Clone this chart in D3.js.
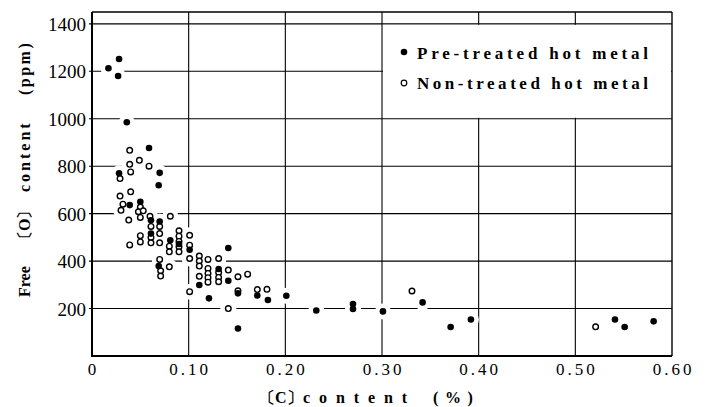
<!DOCTYPE html>
<html>
<head>
<meta charset="utf-8">
<script src="https://cdnjs.cloudflare.com/ajax/libs/d3/7.8.5/d3.min.js"></script>
</head>
<body style="margin:0">
<script>
// [C] content (%), free [O] content (ppm)
var pretreatedC = [0.017, 0.028, 0.027, 0.036, 0.059, 0.070, 0.028, 0.069, 0.039, 0.050,
  0.061, 0.061, 0.070, 0.081, 0.090, 0.101, 0.069, 0.111, 0.121, 0.131,
  0.141, 0.141, 0.151, 0.151, 0.171, 0.182, 0.201, 0.232, 0.270, 0.270,
  0.301, 0.342, 0.371, 0.392, 0.541, 0.551, 0.581];
var pretreatedO = [1213, 1252, 1180, 985, 877, 772, 770, 720, 636, 650,
  572, 516, 567, 488, 472, 448, 379, 299, 243, 367,
  317, 455, 264, 116, 255, 236, 254, 192, 219, 198,
  188, 226, 122, 154, 154, 122, 146];

var nontreatedC = [0.039, 0.049, 0.039, 0.040, 0.059, 0.029, 0.029, 0.040, 0.032, 0.030,
  0.038, 0.039, 0.050, 0.048, 0.053, 0.050, 0.060, 0.061, 0.061, 0.061,
  0.050, 0.050, 0.070, 0.070, 0.070, 0.081, 0.080, 0.080, 0.080, 0.090,
  0.090, 0.090, 0.090, 0.090, 0.101, 0.101, 0.101, 0.101, 0.070, 0.071,
  0.071, 0.111, 0.111, 0.111, 0.111, 0.120, 0.120, 0.120, 0.120, 0.120,
  0.131, 0.131, 0.131, 0.131, 0.141, 0.141, 0.151, 0.151, 0.161, 0.171,
  0.181, 0.331, 0.521];
var nontreatedO = [867, 825, 808, 776, 800, 748, 674, 692, 640, 614,
  573, 468, 628, 608, 612, 584, 589, 546, 500, 477,
  507, 481, 546, 516, 477, 589, 463, 439, 376, 528,
  505, 483, 460, 439, 509, 467, 411, 271, 407, 359,
  337, 421, 400, 379, 336, 407, 369, 348, 330, 311,
  411, 352, 331, 313, 362, 200, 334, 275, 345, 280,
  281, 274, 123];

var xTicks = [0, 0.1, 0.2, 0.3, 0.4, 0.5, 0.6];
var yTicks = [200, 400, 600, 800, 1000, 1200, 1400];
var legendLabels = ["Pre-treated hot metal", "Non-treated hot metal"];
var xTitle = ["〔C〕", "content", "(%)"];
var yTitle = ["Free", "〔O〕", "content", "(ppm)"];

var svg = d3.select("body").append("svg")
  .attr("width", 714)
  .attr("height", 407);

var x = d3.scaleLinear().domain([0, 0.6]).range([92, 672]);
var y = d3.scaleLinear().domain([0, 1450]).range([356, 12]);

var pre = pretreatedC.map(function(c, i) { return {c: c, o: pretreatedO[i]}; });
var non = nontreatedC.map(function(c, i) { return {c: c, o: nontreatedO[i]}; });

//grid
var grid = svg.append("g").attr("stroke", "#000").attr("stroke-width", 1.1);
grid.selectAll(".hline").data(yTicks).enter().append("line")
  .attr("x1", x(0) - 3).attr("x2", x(0.6))
  .attr("y1", function(d) { return y(d); })
  .attr("y2", function(d) { return y(d); });
grid.selectAll(".vline").data(xTicks.slice(1, -1)).enter().append("line")
  .attr("y1", y(0)).attr("y2", y(1450))
  .attr("x1", function(d) { return x(d); })
  .attr("x2", function(d) { return x(d); });

//white gaps in the grid around the points
svg.append("g").selectAll("circle").data(pre.concat(non)).enter().append("circle")
  .attr("cx", function(d) { return x(d.c); })
  .attr("cy", function(d) { return y(d.o); })
  .attr("r", 8)
  .attr("fill", "white");

//legend box sits in the grid cells 0.3-0.6 x 1000-1400
svg.append("rect")
  .attr("x", x(0.3) + 1)
  .attr("y", y(1400) + 1)
  .attr("width", x(0.6) - x(0.3) - 2)
  .attr("height", y(1000) - y(1400) - 2)
  .attr("fill", "white");

//frame
svg.append("line").attr("x1", x(0)).attr("x2", x(0)).attr("y1", y(0) + 1).attr("y2", y(1450))
  .attr("stroke", "#000").attr("stroke-width", 2);
svg.append("line").attr("x1", x(0)).attr("x2", x(0.6)).attr("y1", y(0)).attr("y2", y(0))
  .attr("stroke", "#000").attr("stroke-width", 2);
svg.append("line").attr("x1", x(0)).attr("x2", x(0.6)).attr("y1", y(1450)).attr("y2", y(1450))
  .attr("stroke", "#000").attr("stroke-width", 1.4);
svg.append("line").attr("x1", x(0.6)).attr("x2", x(0.6)).attr("y1", y(0)).attr("y2", y(1450))
  .attr("stroke", "#000").attr("stroke-width", 1.4);

//tick labels, placed with the scales
svg.selectAll(".ylab").data(yTicks).enter().append("text")
  .attr("class", "ylab")
  .attr("x", x(0) - 6)
  .attr("y", function(d) { return y(d) + 7; })
  .attr("text-anchor", "end")
  .style("font-family", "'Liberation Serif'")
  .attr("font-size", 19)
  .text(function(d) { return d; });

svg.selectAll(".xlab").data(xTicks).enter().append("text")
  .attr("class", "xlab")
  .attr("x", function(d) { return x(d) + (d === 0 ? 0 : 1.5); })
  .attr("y", y(0) + 19)
  .attr("text-anchor", "middle")
  .style("font-family", "'Liberation Serif'")
  .attr("font-size", 17)
  .attr("letter-spacing", function(d) { return d === 0 ? 0 : 3; })
  .text(function(d) { return d === 0 ? "0" : d3.format(".2f")(d); });

//points
svg.append("g").selectAll("circle").data(non).enter().append("circle")
  .attr("cx", function(d) { return x(d.c); })
  .attr("cy", function(d) { return y(d.o); })
  .attr("r", 2.8)
  .attr("fill", "white")
  .attr("stroke", "#000")
  .attr("stroke-width", 1.4);
svg.append("g").selectAll("circle").data(pre).enter().append("circle")
  .attr("cx", function(d) { return x(d.c); })
  .attr("cy", function(d) { return y(d.o); })
  .attr("r", 3.3)
  .attr("fill", "#000");

//legend
svg.append("circle").attr("cx", 404).attr("cy", 52).attr("r", 3.3).attr("fill", "#000");
svg.append("circle").attr("cx", 404).attr("cy", 83).attr("r", 2.8)
  .attr("fill", "white").attr("stroke", "#000").attr("stroke-width", 1.2);
svg.selectAll(".legend").data(legendLabels).enter().append("text")
  .attr("class", "legend")
  .attr("x", 417)
  .attr("y", function(d, i) { return 59 + i * 30; })
  .style("font-family", "'Liberation Serif'")
  .attr("font-size", 17)
  .attr("font-weight", "bold")
  .attr("textLength", 231)
  .attr("lengthAdjust", "spacing")
  .text(function(d) { return d; });

//x title, spaced-out words
var xPos = [259, 303, 433], xSpace = [0, 8.9, 6.6];
svg.selectAll(".xtitle").data(xTitle).enter().append("text")
  .attr("class", "xtitle")
  .attr("x", function(d, i) { return xPos[i]; })
  .attr("y", 403)
  .style("font-family", "'Liberation Serif'")
  .attr("font-size", 16)
  .attr("font-weight", "bold")
  .attr("letter-spacing", function(d, i) { return xSpace[i]; })
  .text(function(d) { return d; });

//y title, rotated
var yPos = [-297, -247, -192, -95], ySpace = [0, 0, 3, 2.5];
svg.selectAll(".ytitle").data(yTitle).enter().append("text")
  .attr("class", "ytitle")
  .attr("transform", "translate(30,0) rotate(-90)")
  .attr("x", function(d, i) { return yPos[i]; })
  .attr("y", 0)
  .style("font-family", "'Liberation Serif'")
  .attr("font-size", 16)
  .attr("font-weight", "bold")
  .attr("letter-spacing", function(d, i) { return ySpace[i]; })
  .text(function(d) { return d; });
</script>
</body>
</html>
